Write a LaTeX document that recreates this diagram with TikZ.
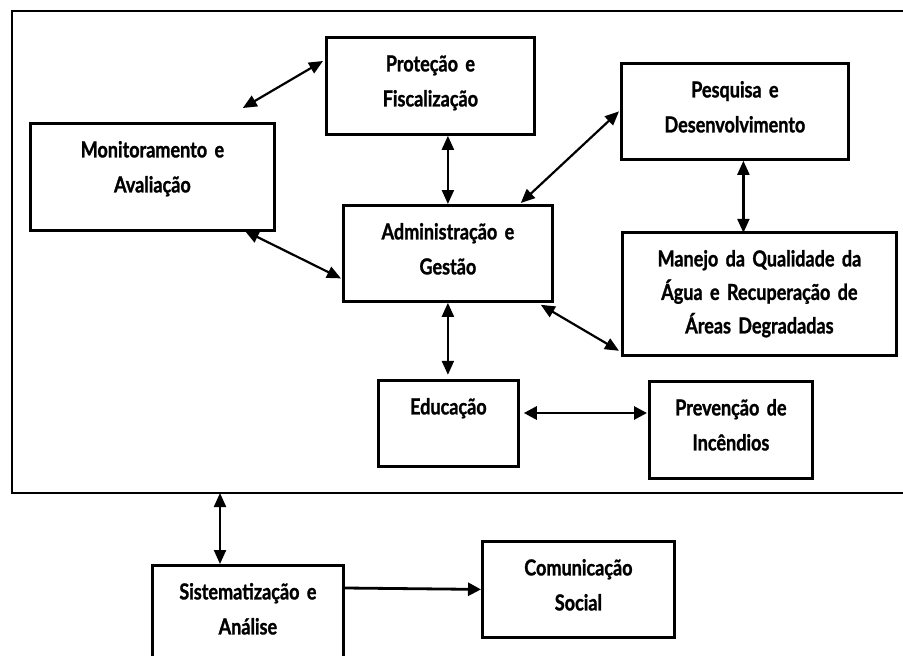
\documentclass[tikz,border=0pt]{standalone}
\usepackage{fontspec}
\setmainfont{Lato}
\newfontfamily\boxfont{Lato}[FakeStretch=0.82, FakeBold=1.2]
\usetikzlibrary{arrows.meta,calc}
\begin{document}
\begin{tikzpicture}[x=1pt,y=-1pt,
  box/.style={draw, line width=2.8pt, inner sep=0pt, align=center, text height=34pt,
    font=\boxfont\bfseries\fontsize{22}{35}\selectfont, anchor=north west},
  link/.style={line width=2.2pt, {Triangle[length=14pt,width=12pt]}-{Triangle[length=14pt,width=12pt]}},
  wide/.style={line width=2.8pt, {Triangle[length=13pt,width=13pt]}-{Triangle[length=13pt,width=13pt]}},
  oneway/.style={line width=2.8pt, -{Triangle[length=13pt,width=13pt]}},
  frame/.style={line width=2.8pt}]
\useasboundingbox (0,0) rectangle (903,656);
% outer frame
\draw[frame] (910,11) -- (12,11) -- (12,493) -- (910,493);
\coordinate (fb) at (220,493);
% boxes
\node[box, text width=208pt, text depth=63pt] (pro) at (325,36) {Proteção e\\Fiscalização};
\node[box, text width=244pt, text depth=73pt] (mon) at (29,122) {Monitoramento e\\Avaliação};
\node[box, text width=209pt, text depth=62pt] (adm) at (342,204) {Administração e\\Gestão};
\node[box, text width=227pt, text depth=62pt] (pes) at (620,62) {Pesquisa e\\Desenvolvimento};
\node[box, text width=274pt, text depth=89pt, font=\boxfont\bfseries\fontsize{22}{33.5}\selectfont] (man) at (621,231) {Manejo da Qualidade da\\Água e Recuperação de\\Áreas Degradadas};
\node[box, text width=140pt, text depth=52pt] (edu) at (377,379) {Educação};
\node[box, text width=163pt, text depth=63pt] (pre) at (648,380) {Prevenção de\\Incêndios};
\node[box, text width=191pt, text depth=66pt] (sis) at (151,564) {Sistematização e\\Análise};
\node[box, text width=192pt, text depth=62pt] (com) at (481,540) {Comunicação\\Social};
% connectors
\draw[link] ($(mon.north east)+(-33,-14)$) -- ($(pro.north west)+(-2,25)$);
\draw[link] ($(mon.south east)+(-31,-1)$) -- ($(adm.west)+(-1,25)$);
\draw[link] (adm.north |- pro.south) -- (adm.north);
\draw[link] ($(adm.north east)+(-33,-1)$) -- ($(pes.west)+(-1,0)$);
\draw[link] ($(pes.south)+(8.5,0)$) -- ($(pes.south)+(8.5,72)$);
\draw[link] ($(adm.south east)+(-13,2)$) -- ($(man.south west)+(-2,-6)$);
\draw[link] (adm.south) -- ($(adm.south)+(0,72)$);
\draw[wide] ($(edu.north east)+(4,34)$) -- ($(pre.north west)+(-1,33)$);
\draw[link] (fb) -- (fb |- sis.north);
\draw[oneway] ($(sis.north east)+(0,24)$) -- (com.west);
\end{tikzpicture}
\end{document}
